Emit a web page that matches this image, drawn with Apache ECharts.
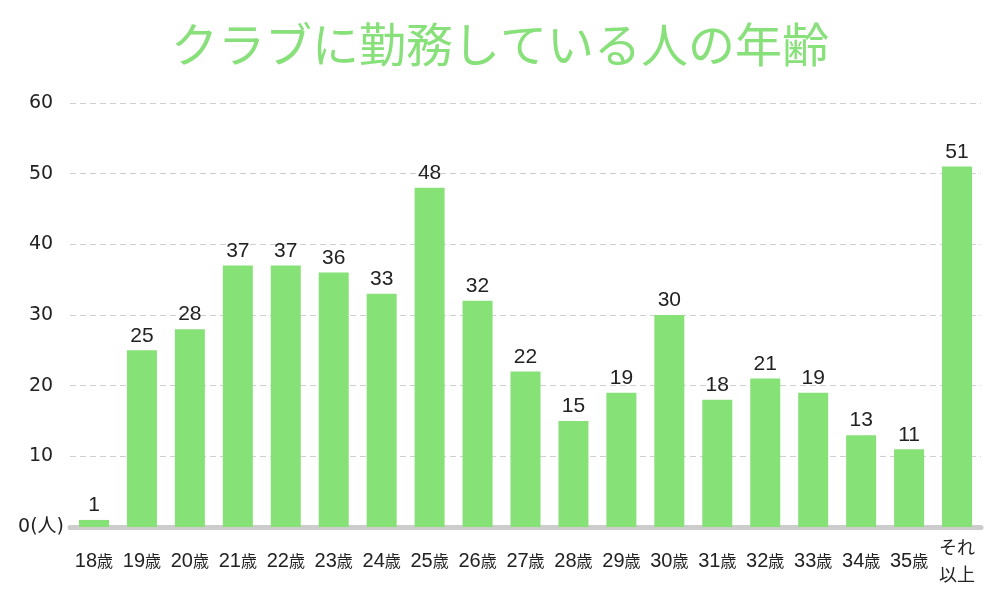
<!DOCTYPE html>
<html><head><meta charset="utf-8">
<script src="https://cdn.jsdelivr.net/npm/echarts@6/dist/echarts.min.js"></script>
<style>html,body{margin:0;padding:0;background:#fff}#c{width:1000px;height:600px}</style>
</head><body><div id="c"></div>
<script>
const titleText = 'クラブに勤務している人の年齢';
const categories = ['18歳','19歳','20歳','21歳','22歳','23歳','24歳','25歳','26歳','27歳','28歳','29歳','30歳','31歳','32歳','33歳','34歳','35歳','それ\n以上'];
const values = [1,25,28,37,37,36,33,48,32,22,15,19,30,18,21,19,13,11,51];
const yTicks = [0,10,20,30,40,50,60];

const chart = echarts.init(document.getElementById('c'), null, {renderer:'canvas'});
chart.setOption({
  backgroundColor:'#fff',
  animation:false,
  title:{text:titleText,left:'center',top:16,textStyle:{color:'#88e07a',fontSize:47,fontWeight:'normal',fontFamily:'Noto Sans CJK JP'}},
  grid:{left:70,right:19,top:103,bottom:73},
  xAxis:{type:'category',data:categories,
    axisLine:{show:true,lineStyle:{color:'#cccccc',width:5}},
    axisTick:{show:false},
    axisLabel:{interval:0,margin:34,verticalAlign:'middle',color:'#222',
      formatter:function(v){
        const m=v.match(/^(\d+)(歳)$/);
        if(m) return '{n|'+m[1]+'}{s|'+m[2]+'}';
        return '{t|'+v.replace('\n','}\n{t|')+'}';
      },
      rich:{n:{fontSize:20,fontFamily:'Liberation Sans',color:'#222'},s:{fontSize:16,fontFamily:'Noto Sans CJK JP',color:'#222'},t:{fontSize:18,fontFamily:'Noto Sans CJK JP',color:'#222',lineHeight:27}}
    }},
  yAxis:{type:'value',min:yTicks[0],max:yTicks[yTicks.length-1],interval:10,
    axisLine:{show:false},axisTick:{show:false},
    splitLine:{show:true,lineStyle:{color:'#cfcfcf',type:[6,4],width:1}},
    axisLabel:{align:'center',margin:29,color:'#222',fontSize:19,fontFamily:'DejaVu Sans, Noto Sans CJK JP',
      formatter:function(v){return v===0?'0(人)':String(v);}}},
  series:[{type:'bar',data:values,barWidth:30,
    itemStyle:{color:'#86e176'},
    label:{show:true,position:'top',distance:4,color:'#222',fontSize:21,fontFamily:'Liberation Sans'}}]
});
</script></body></html>
